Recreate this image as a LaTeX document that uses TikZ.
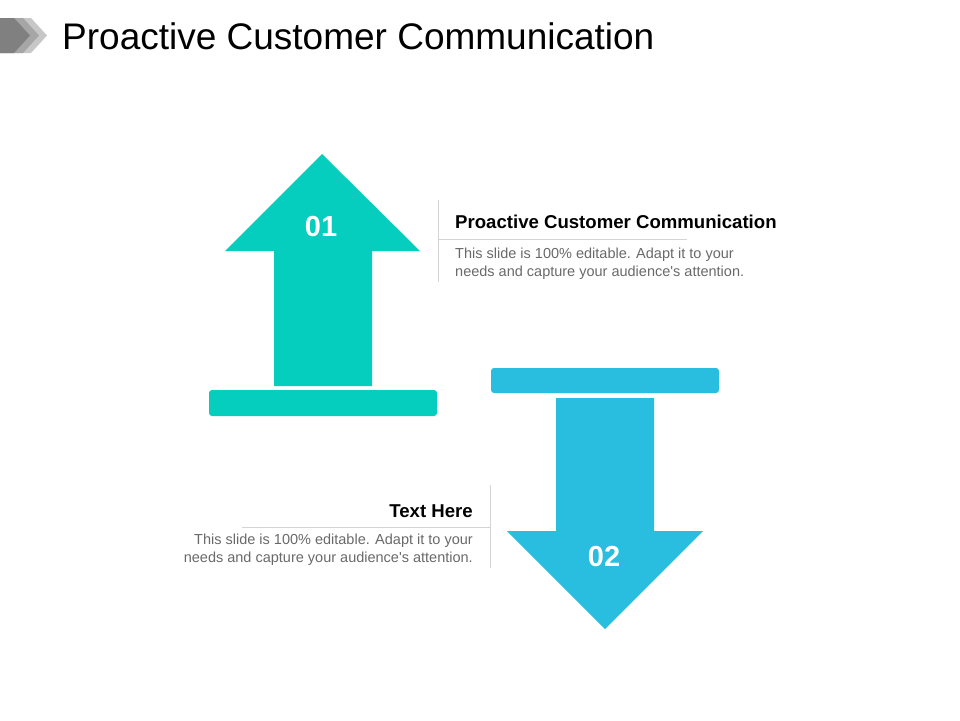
\documentclass[tikz,border=0pt]{standalone}
\usepackage{fontspec}
\setmainfont{Liberation Sans}

\definecolor{tealup}{RGB}{6,206,190}
\definecolor{bluedown}{RGB}{41,189,224}
\definecolor{bodygray}{RGB}{105,105,105}
\definecolor{rulegray}{RGB}{212,212,212}

\tikzset{
 number/.style={text=white,font=\fontsize{29}{32}\selectfont\bfseries,inner sep=0pt},
 heading/.style={font=\fontsize{18.6}{21}\selectfont\bfseries,inner sep=0pt},
 bodytext/.style={text=bodygray,font=\fontsize{14.5}{17.8}\selectfont,inner sep=0pt},
 divider/.style={draw=rulegray,line width=0.8pt}
}

\begin{document}
\begin{tikzpicture}[x=1pt,y=-1pt]
 \useasboundingbox (0,0) rectangle (960,720);

 % header mark
 \fill[black!22] (0,18) -- (31,18) -- (47,35.5) -- (31,53) -- (0,53) -- cycle;
 \fill[black!35] (0,18) -- (23,18) -- (39,35.5) -- (23,53) -- (0,53) -- cycle;
 \fill[black!50] (0,18) -- (14,18) -- (30,35.5) -- (14,53) -- (0,53) -- cycle;
 \node[anchor=base west,inner sep=0pt,font=\fontsize{37}{40}\selectfont] (title) at (62,49)
  {Proactive Customer Communication};

 % arrow 01
 \fill[tealup] (322,154) -- (420,251) -- (372,251) -- (372,386) -- (274,386)
  -- (274,251) -- (225,251) -- cycle;
 \fill[tealup,rounded corners=3pt] (209,390) rectangle (437,416);
 \node[number] (n01) at (321,227) {01};

 % arrow 02
 \fill[bluedown,rounded corners=3pt] (491,368) rectangle (719,393);
 \fill[bluedown] (556,398) -- (654,398) -- (654,531) -- (703,531) -- (605,629)
  -- (507,531) -- (556,531) -- cycle;
 \node[number] (n02) at (604,557) {02};

 % text 01
 \draw[divider] (438,200) -- (438,282);
 \draw[divider] (438,239) -- (687,239);
 \node[heading,anchor=base west] (head1) at (455,228) {Proactive Customer Communication};
 \node[bodytext,anchor=base west] (body1a) at (455,258) {This slide is 100\% editable. Adapt it to your};
 \node[bodytext,anchor=base west] (body1b) at (455,276) {needs and capture your audience\textquotesingle s attention.};

 % text 02
 \draw[divider] (490,485) -- (490,568);
 \draw[divider] (242,527) -- (490,527);
 \node[heading,anchor=base east] (head2) at (473,517) {Text Here};
 \node[bodytext,anchor=base east] (body2a) at (473,544) {This slide is 100\% editable. Adapt it to your};
 \node[bodytext,anchor=base east] (body2b) at (473,562) {needs and capture your audience\textquotesingle s attention.};
\end{tikzpicture}
\end{document}
